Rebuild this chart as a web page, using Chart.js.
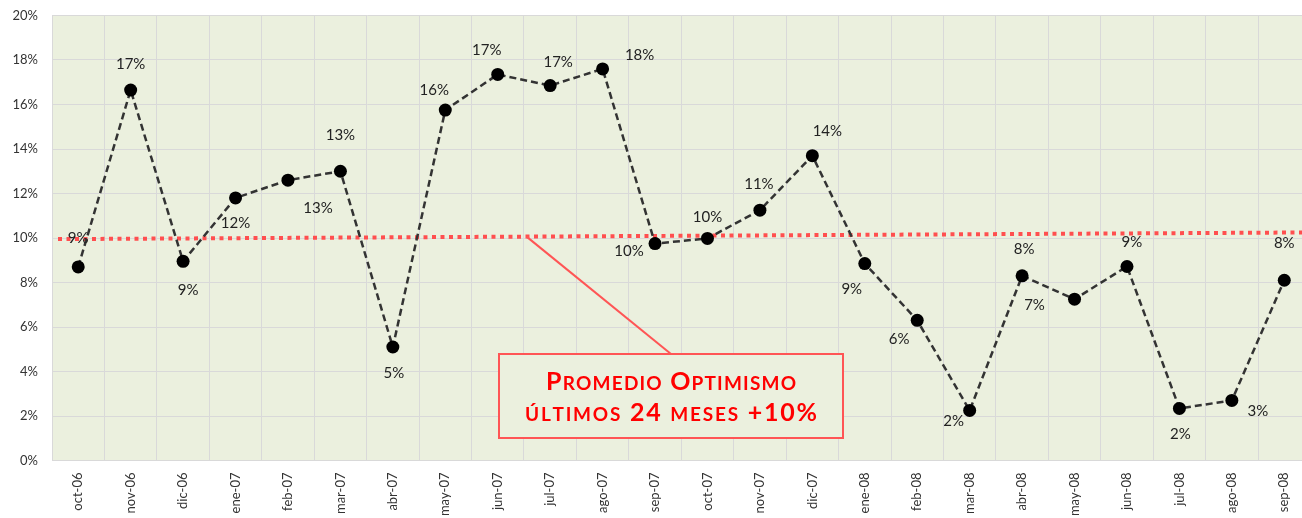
<!DOCTYPE html>
<html>
<head>
<meta charset="utf-8">
<script src="https://cdn.jsdelivr.net/npm/chart.js@4/dist/chart.umd.min.js"></script>
<style>
  html, body { margin: 0; padding: 0; background: #fff; overflow: hidden; }
  canvas { display: block; }
</style>
</head>
<body>
<canvas id="optimismo" width="1317" height="518"></canvas>
<script>
const months = ["oct-06", "nov-06", "dic-06", "ene-07", "feb-07", "mar-07", "abr-07", "may-07",
  "jun-07", "jul-07", "ago-07", "sep-07", "oct-07", "nov-07", "dic-07", "ene-08",
  "feb-08", "mar-08", "abr-08", "may-08", "jun-08", "jul-08", "ago-08", "sep-08"];
const optimismo = [8.7, 16.65, 8.95, 11.8, 12.6, 13.0, 5.1, 15.75,
  17.35, 16.85, 17.6, 9.75, 9.98, 11.25, 13.7, 8.85,
  6.3, 2.25, 8.3, 7.25, 8.72, 2.34, 2.7, 8.1];
const yTicks = [0, 2, 4, 6, 8, 10, 12, 14, 16, 18, 20];
// average line (left edge, right edge), in %
const promedio = [9.95, 10.25];
const calloutLines = ["Promedio Optimismo", "últimos 24 meses +10%"];

// where each value label sits relative to its point (px)
const labelOffsets = [[0, -29], [0, -26], [5, 29], [0, 25], [30, 28], [0, -36], [1, 26], [-11, -20],
  [-11, -24], [8, -23], [37, -14], [-26, 8], [0, -21], [-1, -26], [15, -25], [-13, 26],
  [-18, 19], [-16, 11], [2, -27], [-40, 6], [5, -24], [1, 26], [26, 11], [0, -37]];

const FONT = "Lato, 'Open Sans', sans-serif";

const plotBackground = {
  id: "plotBackground",
  beforeDraw(chart) {
    const { ctx, chartArea: a } = chart;
    ctx.save();
    ctx.fillStyle = "#EBF0DE";
    ctx.fillRect(a.left, a.top, a.right - a.left, a.bottom - a.top);
    ctx.restore();
  }
};

const averageLine = {
  id: "averageLine",
  beforeDatasetsDraw(chart) {
    const { ctx, chartArea: a, scales } = chart;
    ctx.save();
    ctx.strokeStyle = "#FF4F4F";
    ctx.lineWidth = 4;
    ctx.setLineDash([4, 4.5]);
    ctx.beginPath();
    ctx.moveTo(a.left + 6, scales.y.getPixelForValue(promedio[0]));
    ctx.lineTo(a.right, scales.y.getPixelForValue(promedio[1]));
    ctx.stroke();
    ctx.restore();
  }
};

function drawSmallCaps(ctx, text, cx, y, big, small, target) {
  const parts = [...text].map(ch => ({ t: ch.toUpperCase(), size: ch !== ch.toUpperCase() ? small : big }));
  let w = 0;
  parts.forEach(p => {
    ctx.font = "bold " + p.size + "px " + FONT;
    p.w = ctx.measureText(p.t).width;
    w += p.w;
  });
  const gap = (target - w) / (parts.length - 1);
  let x = cx - target / 2;
  parts.forEach(p => {
    ctx.font = "bold " + p.size + "px " + FONT;
    ctx.fillText(p.t, x, y);
    x += p.w + gap;
  });
}

const labelsAndCallout = {
  id: "labelsAndCallout",
  afterDatasetsDraw(chart) {
    const { ctx, scales } = chart;
    const meta = chart.getDatasetMeta(0);
    ctx.save();
    ctx.font = "15px " + FONT;
    ctx.fillStyle = "#222";
    ctx.textAlign = "center";
    ctx.textBaseline = "middle";
    meta.data.forEach((pt, i) => {
      const off = labelOffsets[i];
      ctx.fillText(Math.round(optimismo[i]) + "%", pt.x + off[0], pt.y + off[1]);
    });

    // callout
    const ax = scales.x.getPixelForValue(8.55);
    const ay = scales.y.getPixelForValue(promedio[0] + (promedio[1] - promedio[0]) * 0.37);
    ctx.strokeStyle = "#FF5555";
    ctx.lineWidth = 2;
    ctx.beginPath();
    ctx.moveTo(ax, ay);
    ctx.lineTo(671, 354);
    ctx.stroke();
    ctx.fillStyle = "#EBF0DE";
    ctx.fillRect(499, 354, 344, 84);
    ctx.strokeRect(499, 354, 344, 84);
    ctx.fillStyle = "#FF0000";
    ctx.textAlign = "left";
    ctx.textBaseline = "alphabetic";
    drawSmallCaps(ctx, calloutLines[0], 671, 390, 25, 19, 250);
    drawSmallCaps(ctx, calloutLines[1], 671, 421, 25, 19, 292);
    ctx.restore();
  }
};

new Chart(document.getElementById("optimismo"), {
  type: "line",
  data: {
    labels: months,
    datasets: [{
      data: optimismo,
      borderColor: "#333",
      borderWidth: 2.5,
      borderDash: [7, 4],
      tension: 0,
      pointRadius: 6.5,
      pointBackgroundColor: "#000",
      pointBorderColor: "#000",
      pointBorderWidth: 0
    }]
  },
  options: {
    responsive: false,
    animation: false,
    layout: { padding: { top: 15.5, left: 0, right: 0, bottom: 0 } },
    plugins: { legend: { display: false }, tooltip: { enabled: false } },
    scales: {
      x: {
        offset: true,
        grid: { offset: true, color: "#D9D9D9", drawTicks: false },
        border: { color: "#D9D9D9" },
        ticks: { minRotation: 90, maxRotation: 90, padding: 12, color: "#333", font: { family: FONT, size: 13 } },
        afterFit(s) { s.height = 57.5; s.paddingLeft = 0; s.paddingRight = 0; }
      },
      y: {
        min: 0,
        max: 20,
        afterBuildTicks(s) { s.ticks = yTicks.map(v => ({ value: v })); },
        grid: { color: "#D9D9D9", drawTicks: false },
        border: { color: "#D9D9D9" },
        ticks: { padding: 14, color: "#333", font: { family: FONT, size: 13 }, callback: v => v + "%" },
        afterFit(s) { s.width = 52; s.paddingTop = 0; s.paddingBottom = 0; }
      }
    }
  },
  plugins: [plotBackground, averageLine, labelsAndCallout]
});
</script>
</body>
</html>
